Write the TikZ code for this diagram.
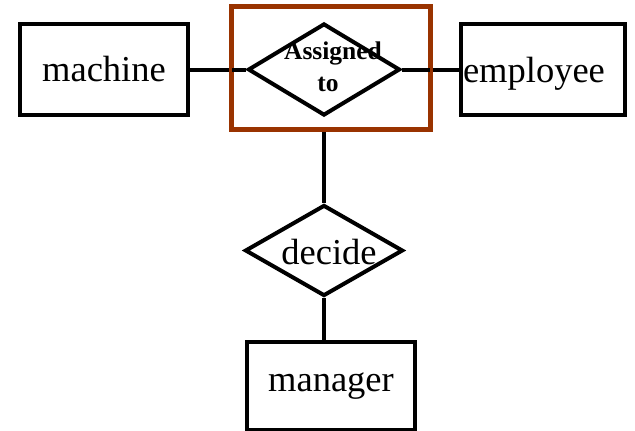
\documentclass[tikz,border=0pt]{standalone}
\usepackage{fontspec}
\setmainfont{Liberation Serif}
\usetikzlibrary{shapes.geometric}
\definecolor{aggbrown}{RGB}{153,51,0}
\tikzset{
  entity/.style={draw=black, line width=4.5pt, rectangle, inner sep=0pt,
    font=\fontsize{36.5}{40}\selectfont},
  relation/.style={draw=black, line width=4pt, diamond, inner sep=0pt},
  rellabel/.style={inner sep=0pt, anchor=base},
  link/.style={line width=4pt},
  aggregate/.style={draw=aggbrown, line width=3.2pt, rectangle, inner sep=0pt}
}
\begin{document}
\begin{tikzpicture}[x=1pt, y=-1pt]
  \useasboundingbox (0,0) rectangle (635,431);

  % entities
  \node[entity, minimum width=168pt, minimum height=91pt] (machine) at (104,69.5) {machine};
  \node[entity, minimum width=164pt, minimum height=91pt, text width=160pt,
        align=left, inner xsep=2pt, text depth=0pt] (employee) at (543,69.5) {employee};
  \node[entity, minimum width=168pt, minimum height=88pt] (manager) at (331,386) {manager};

  % relationships
  \node[relation, minimum width=152pt, minimum height=92pt] (assigned) at (324,69.5) {};
  \node[rellabel, font=\bfseries\fontsize{25.5}{30}\selectfont] (assignedA) at (333,59) {Assigned};
  \node[rellabel, font=\bfseries\fontsize{25.5}{30}\selectfont] (assignedB) at (328,91) {to};

  \node[relation, minimum width=158pt, minimum height=91pt] (decide) at (324,250.5) {};
  \node[rellabel, font=\fontsize{36.5}{40}\selectfont] (decidetxt) at (329,264) {decide};

  % aggregation box
  \node[aggregate, minimum width=198pt, minimum height=122pt] (agg) at (331,68) {};

  % connectors
  \draw[link] (machine.east) -- (assigned.west);
  \draw[link] (assigned.east) -- (employee.west);
  \draw[link] (assigned.center |- agg.south) -- (decide.north);
  \draw[link] (decide.south) -- (decide.south |- manager.north);

  % redraw the aggregation border on top of the links
  \draw[draw=aggbrown, line width=3.2pt] (agg.south west) rectangle (agg.north east);
\end{tikzpicture}
\end{document}
